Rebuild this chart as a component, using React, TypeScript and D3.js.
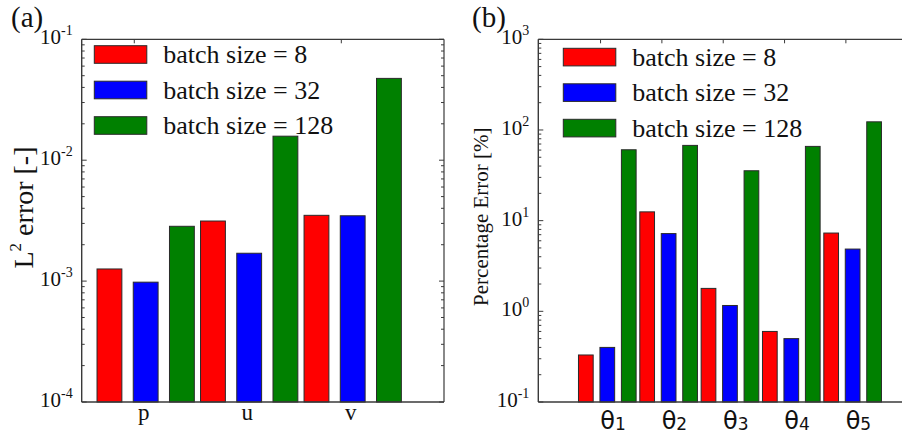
import React from 'react';
import * as d3 from 'd3';

// Categories and series
const flowVariables = ['p', 'u', 'v'];
const thetaNames = ['θ', 'θ', 'θ', 'θ', 'θ'];
const thetaSubscripts = ['1', '2', '3', '4', '5'];
const batchLabels = ['batch size = 8', 'batch size = 32', 'batch size = 128'];
const batchColors = ['#ff0000', '#0000ff', '#008000'];

// (a) L2 error of the flow fields
const l2Batch8 = [1.26e-3, 3.14e-3, 3.5e-3];
const l2Batch32 = [9.8e-4, 1.7e-3, 3.47e-3];
const l2Batch128 = [2.84e-3, 1.58e-2, 4.75e-2];

// (b) percentage error of the inferred parameters
const pctBatch8 = [0.33, 12.5, 1.79, 0.6, 7.3];
const pctBatch32 = [0.4, 7.2, 1.16, 0.5, 4.86];
const pctBatch128 = [60.5, 67.6, 35.5, 65.9, 123];

// Axis tick values
const l2Decades = [1e-4, 1e-3, 1e-2, 1e-1];
const pctDecades = [1e-1, 1e0, 1e1, 1e2, 1e3];

const SERIF = '"Liberation Serif", "Times New Roman", serif';
const AXIS = '#3a3a3a';

type PanelProps = {
  left: number;
  right: number;
  top: number;
  bottom: number;
  xDomain: [number, number];
  decades: number[];
  series: number[][];
  topTicks: number[];
  rightAxis: boolean;
  legend: { x: number; y: number };
};

function Panel(props: PanelProps) {
  const { left, right, top, bottom, xDomain, decades, series, topTicks, rightAxis, legend } = props;
  const x = d3.scaleLinear().domain(xDomain).range([left, right]);
  const y = d3
    .scaleLog()
    .domain([decades[0], decades[decades.length - 1]])
    .range([bottom, top]);
  const unit = x(1) - x(0);
  const barW = unit * 0.24;
  const offset = 0.35;

  const minors: number[] = [];
  for (let i = 0; i < decades.length - 1; i++) {
    for (let k = 2; k <= 9; k++) minors.push(decades[i] * k);
  }

  const plotRight = Math.min(right, 902);

  return (
    <g>
      {/* bars */}
      {series.map((vals, s) =>
        vals.map((v, i) => {
          const cx = x(i + 1 + (s - 1) * offset);
          return (
            <rect
              key={`b${s}-${i}`}
              x={cx - barW / 2}
              y={y(v)}
              width={barW}
              height={bottom - y(v)}
              fill={batchColors[s]}
              stroke="#2a2a2a"
              strokeWidth={1}
            />
          );
        })
      )}

      {/* frame */}
      <line x1={left} x2={left} y1={top} y2={bottom} stroke={AXIS} strokeWidth={1.4} />
      <line x1={left} x2={plotRight} y1={bottom} y2={bottom} stroke={AXIS} strokeWidth={1.4} />
      <line x1={left} x2={plotRight} y1={top} y2={top} stroke={AXIS} strokeWidth={1.2} />
      {rightAxis && <line x1={right} x2={right} y1={top} y2={bottom} stroke={AXIS} strokeWidth={1.2} />}

      {/* top ticks */}
      {topTicks.map((t, i) => (
        <line key={`tt${i}`} x1={x(t)} x2={x(t)} y1={top} y2={top + 4} stroke={AXIS} strokeWidth={1} />
      ))}

      {/* left axis ticks, pointing inward */}
      {decades.map((d, i) => (
        <line key={`lm${i}`} x1={left} x2={left + 5} y1={y(d)} y2={y(d)} stroke={AXIS} strokeWidth={1} />
      ))}
      {minors.map((m, i) => (
        <line key={`ln${i}`} x1={left} x2={left + 3} y1={y(m)} y2={y(m)} stroke={AXIS} strokeWidth={1} />
      ))}

      {/* right axis ticks */}
      {rightAxis &&
        decades.map((d, i) => (
          <line key={`rm${i}`} x1={right} x2={right - 5} y1={y(d)} y2={y(d)} stroke={AXIS} strokeWidth={1} />
        ))}
      {rightAxis &&
        minors.map((m, i) => (
          <line key={`rn${i}`} x1={right} x2={right - 3} y1={y(m)} y2={y(m)} stroke={AXIS} strokeWidth={1} />
        ))}

      {/* tick labels */}
      {decades.map((d, i) => (
        <text
          key={`tl${i}`}
          x={left - 9}
          y={y(d) + 5}
          textAnchor="end"
          fontFamily={SERIF}
          fontSize={21}
          fill="#111"
        >
          10
          <tspan fontSize={14} dy={-9}>
            {String(Math.round(Math.log10(d)))}
          </tspan>
        </text>
      ))}

      {/* legend */}
      {batchLabels.map((lab, s) => (
        <g key={`lg${s}`}>
          <rect
            x={legend.x}
            y={legend.y + s * 35.5}
            width={52.5}
            height={17.6}
            fill={batchColors[s]}
            stroke="#2a2a2a"
            strokeWidth={1}
          />
          <text
            x={legend.x + 69}
            y={legend.y + s * 35.5 + 17.6}
            fontFamily={SERIF}
            fontSize={26}
            fill="#111"
          >
            {lab}
          </text>
        </g>
      ))}
    </g>
  );
}

export default function App() {
  const xa = d3.scaleLinear().domain([0.382, 3.882]).range([81.7, 444]);
  const xb = d3.scaleLinear().domain([-0.125, 5.875]).range([538.3, 906.3]);

  return (
    <svg
      width={902}
      height={436}
      viewBox="0 0 902 436"
      style={{ position: 'absolute', left: 0, top: 0, background: '#fff' }}
    >
      <rect x={0} y={0} width={902} height={436} fill="#fff" />

      <Panel
        left={81.7}
        right={444}
        top={39.3}
        bottom={402}
        xDomain={[0.382, 3.882]}
        decades={l2Decades}
        series={[l2Batch8, l2Batch32, l2Batch128]}
        topTicks={[0.89, 2.89]}
        rightAxis={true}
        legend={{ x: 94.3, y: 45.7 }}
      />
      <Panel
        left={538.3}
        right={906.3}
        top={39.3}
        bottom={402}
        xDomain={[-0.125, 5.875]}
        decades={pctDecades}
        series={[pctBatch8, pctBatch32, pctBatch128]}
        topTicks={[0.89, 1.89, 2.89, 3.89, 4.89]}
        rightAxis={false}
        legend={{ x: 563.3, y: 48.3 }}
      />

      {/* category labels */}
      {flowVariables.map((c, i) => (
        <text key={c} x={xa(i + 1) - 2} y={420} textAnchor="middle" fontFamily={SERIF} fontSize={23} fill="#111">
          {c}
        </text>
      ))}
      {thetaNames.map((c, i) => (
        <text
          key={`th${i}`}
          x={xb(i + 1) - 7}
          y={429}
          fontFamily='"DejaVu Sans", sans-serif'
          fontSize={24}
          fill="#111"
        >
          {c}
          <tspan fontSize={17} dy={1}>
            {thetaSubscripts[i]}
          </tspan>
        </text>
      ))}

      {/* axis titles */}
      <text
        transform="translate(33,207.5) rotate(-90)"
        textAnchor="middle"
        fontFamily={SERIF}
        fontSize={28}
        fill="#111"
      >
        L<tspan fontSize={17} dy={-12}>2</tspan>
        <tspan dy={12}> error [-]</tspan>
      </text>
      <text
        transform="translate(488,216.7) rotate(-90)"
        textAnchor="middle"
        fontFamily={SERIF}
        fontSize={21}
        fill="#111"
      >
        Percentage Error [%]
      </text>

      {/* panel labels */}
      <text x={11} y={27} fontFamily={SERIF} fontSize={29} fill="#111">
        (a)
      </text>
      <text x={472} y={27} fontFamily={SERIF} fontSize={29} fill="#111">
        (b)
      </text>
    </svg>
  );
}
